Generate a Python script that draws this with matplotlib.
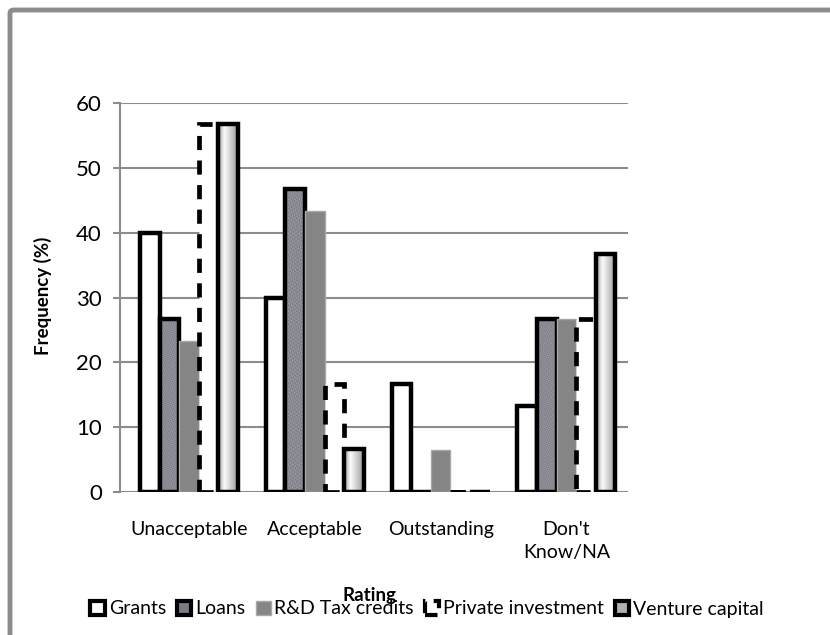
import numpy as np
import matplotlib
matplotlib.use('Agg')
import matplotlib.pyplot as plt
from matplotlib.patches import Rectangle, FancyBboxPatch
from matplotlib.colors import LinearSegmentedColormap

plt.rcParams['font.family'] = ['Lato', 'DejaVu Sans']

# ── Datos ─────────────────────────────────────────────────────────
categorias = ['Unacceptable', 'Acceptable', 'Outstanding', "Don't\nKnow/NA"]
series = ['Grants', 'Loans', 'R&D Tax credits', 'Private investment', 'Venture capital']
grants = [40.0, 30.0, 16.7, 13.3]
loans = [26.7, 46.7, 0.0, 26.7]
rd_tax = [23.3, 43.3, 6.5, 26.7]
privada = [56.7, 16.7, 0.0, 26.7]
venture = [56.7, 6.7, 0.0, 36.7]
valores = [grants, loans, rd_tax, privada, venture]

# ── Texturas ──────────────────────────────────────────────────────
yy, xx = np.mgrid[0:160, 0:24]
_granito = (0.5 + 0.2 * np.sin(xx * 1.7 + yy * 0.9) * np.cos(yy * 2.3 - xx * 0.7)
            + 0.12 * np.sin(xx * 2.9 + yy * yy * 0.013) * np.sin(yy * 1.1))
_gradiente = np.tile(np.concatenate([np.linspace(0.62, 0.97, 8),
                                     np.linspace(0.97, 0.62, 16)]), (2, 1))
_cmap_granito = LinearSegmentedColormap.from_list('granito', ['#3e3e48', '#8a8a94', '#d8d8de'])

fig = plt.figure(figsize=(8.3, 6.35), dpi=100)
ax = fig.add_axes([120 / 830, 1 - 492 / 635, 508 / 830, 389 / 635])

x = np.arange(len(categorias))
ancho = 0.156
offsets = (np.arange(len(series)) - 2) * ancho

estilos = [
    dict(facecolor='white', edgecolor='black', linewidth=3.2),
    dict(facecolor='#7a7a82', edgecolor='black', linewidth=3.2),
    dict(facecolor='#858585', edgecolor='#a8a8a8', linewidth=1.0),
    dict(facecolor='white', edgecolor='black', linewidth=3.4, linestyle=(0, (3, 2.2))),
    dict(facecolor='#d8d8d8', edgecolor='black', linewidth=3.2),
]

for i, (nombre, vals) in enumerate(zip(series, valores)):
    barras = ax.bar(x + offsets[i], vals, ancho, zorder=3 + i, **estilos[i])
    if i in (1, 4):
        tex = _granito if i == 1 else _gradiente
        cmap = _cmap_granito if i == 1 else 'gray'
        for b in barras:
            if b.get_height() <= 0:
                continue
            im = ax.imshow(tex, extent=[b.get_x(), b.get_x() + b.get_width(), 0, b.get_height()],
                           aspect='auto', cmap=cmap, vmin=0, vmax=1, zorder=3 + i - 0.01,
                           interpolation='bilinear')
            im.set_clip_path(b)
            b.set_facecolor('none')

ax.set_xlim(-0.549, 3.49)
ax.set_ylim(0, 60)
ax.set_yticks(range(0, 61, 10))
ax.set_xticks(x)
ax.set_xticklabels(categorias, fontsize=14, linespacing=1.45, va='top')
ax.tick_params(axis='y', labelsize=16, length=5, color='#8c8c8c', width=1.5, pad=8)
ax.tick_params(axis='x', length=0, pad=21)
ax.grid(axis='y', color='#8c8c8c', linewidth=1.5, zorder=0)
ax.set_axisbelow(True)
for lado in ['top', 'right', 'bottom']:
    ax.spines[lado].set_visible(False)
ax.spines['left'].set_color('#8c8c8c')
ax.spines['left'].set_linewidth(1.5)

fig.text(43 / 830, 1 - 296 / 635, 'Frequency (%)', rotation=90, ha='center', va='center',
         fontsize=13.5, fontweight='bold')
fig.text(369 / 830, 1 - 596 / 635, 'Rating', ha='center', va='center',
         fontsize=13.5, fontweight='bold')

# ── Leyenda ───────────────────────────────────────────────────────
handles = [
    Rectangle((0, 0), 1, 1, facecolor='white', edgecolor='black', linewidth=3),
    Rectangle((0, 0), 1, 1, facecolor='#7a7a82', edgecolor='black', linewidth=3),
    Rectangle((0, 0), 1, 1, facecolor='#858585', edgecolor='#a8a8a8', linewidth=1),
    Rectangle((0, 0), 1, 1, facecolor='white', edgecolor='black', linewidth=3, linestyle=(0, (3, 2))),
    Rectangle((0, 0), 1, 1, facecolor='#b0b0b0', edgecolor='black', linewidth=3),
]
fig.legend(handles, series, loc='center', bbox_to_anchor=(427 / 830, 1 - 609 / 635),
           ncol=5, frameon=False, fontsize=14, handlelength=0.75, handleheight=0.75,
           handletextpad=0.2, columnspacing=0.55, borderaxespad=0)

# ── Marco gris ────────────────────────────────────────────────────
marco = FancyBboxPatch((10 / 830, -0.1), 1.2, 1.1 - 10 / 635, transform=fig.transFigure,
                       boxstyle='round,pad=0,rounding_size=0.005', facecolor='none',
                       edgecolor='#8c8c8c', linewidth=3.5, zorder=-1)
fig.patches.append(marco)

fig.savefig('out.png', dpi=100)
